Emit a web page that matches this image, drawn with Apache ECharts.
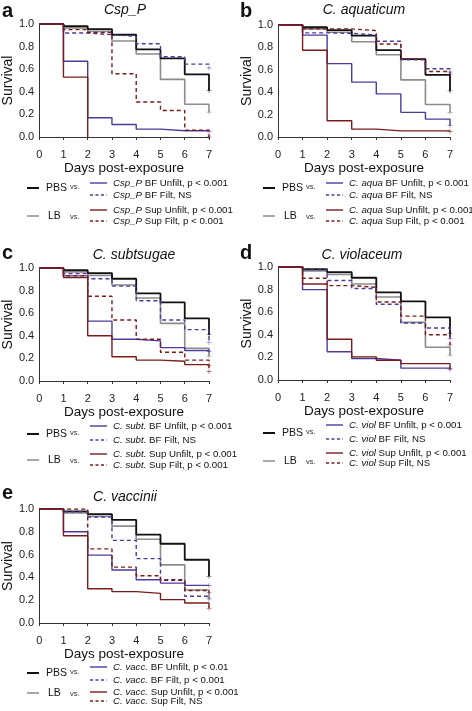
<!DOCTYPE html>
<html><head><meta charset="utf-8">
<script src="https://cdn.jsdelivr.net/npm/echarts@6/dist/echarts.min.js"></script>
<style>html,body{margin:0;padding:0;background:#fff}#c{width:472px;height:711px}</style>
</head><body><div id="c"></div>
<script>
// ---------------- DATA ----------------
const days = [0, 1, 2, 3, 4, 5, 6, 7];
const xTicks = [0, 1, 2, 3, 4, 5, 6, 7];
const yTicks = [0.0, 0.2, 0.4, 0.6, 0.8, 1.0];

// controls (same in every panel)
const pbs = [1.0, 0.98, 0.955, 0.905, 0.775, 0.695, 0.555, 0.41];
const lb  = [1.0, 0.965, 0.935, 0.85, 0.735, 0.51, 0.29, 0.22];

// a: Csp_P
const cspBFUnfilt  = [1.0, 0.67, 0.17, 0.11, 0.07, 0.055, 0.055, 0.05];
const cspBFFilt    = [1.0, 0.92, 0.905, 0.89, 0.825, 0.71, 0.645, 0.61];
const cspSupUnfilt = [1.0, 0.53, 0.0, null, null, null, null, null];
const cspSupFilt   = [1.0, 0.95, 0.925, 0.56, 0.31, 0.235, 0.06, 0.0];
// b: C. aquaticum
const aquaBFUnfilt  = [1.0, 0.91, 0.655, 0.49, 0.385, 0.22, 0.16, 0.10];
const aquaBFFilt    = [1.0, 0.93, 0.925, 0.91, 0.855, 0.69, 0.61, 0.58];
const aquaSupUnfilt = [1.0, 0.775, 0.145, 0.07, 0.055, 0.055, 0.055, 0.05];
const aquaSupFilt   = [1.0, 0.965, 0.965, 0.95, 0.83, 0.70, 0.585, 0.56];
// c: C. subtsugae
const subtBFUnfilt  = [1.0, 0.93, 0.53, 0.37, 0.355, 0.295, 0.27, 0.26];
const subtBFFilt    = [1.0, 0.95, 0.905, 0.84, 0.71, 0.54, 0.455, 0.34];
const subtSupUnfilt = [1.0, 0.915, 0.40, 0.215, 0.185, 0.175, 0.145, 0.14];
const subtSupFilt   = [1.0, 0.93, 0.75, 0.54, 0.37, 0.255, 0.185, 0.085];
// d: C. violaceum
const violBFUnfilt  = [1.0, 0.80, 0.25, 0.19, 0.175, 0.105, 0.105, 0.095];
const violBFFilt    = [1.0, 0.975, 0.88, 0.81, 0.67, 0.505, 0.46, 0.37];
const violSupUnfilt = [1.0, 0.85, 0.36, 0.205, 0.175, 0.145, 0.145, 0.10];
const violSupFilt   = [1.0, 0.90, 0.835, 0.82, 0.69, 0.565, 0.40, 0.31];
// e: C. vaccinii
const vaccBFUnfilt  = [1.0, 0.80, 0.595, 0.465, 0.38, 0.35, 0.33, 0.33];
const vaccBFFilt    = [1.0, 0.975, 0.93, 0.725, 0.565, 0.38, 0.235, 0.21];
const vaccSupUnfilt = [1.0, 0.765, 0.30, 0.275, 0.26, 0.205, 0.175, 0.13];
const vaccSupFilt   = [1.0, 1.0, 0.65, 0.49, 0.415, 0.375, 0.285, 0.27];

const panelLetters = ['a', 'b', 'c', 'd', 'e'];
const panelTitles = ['Csp_P', 'C. aquaticum', 'C. subtsugae', 'C. violaceum', 'C. vaccinii'];
const legendAbbrev = ['Csp_P', 'C. aqua', 'C. subt.', 'C. viol', 'C. vacc.'];
const legendTexts = [
  ['BF Unfilt, p < 0.001', 'BF Filt, NS', 'Sup Unfilt, p < 0.001', 'Sup Filt, p < 0.001'],
  ['BF Unfilt, p < 0.001', 'BF Filt, NS', 'Sup Unfilt, p < 0.001', 'Sup Filt, p < 0.001'],
  ['BF Unfilt, p < 0.001', 'BF Filt, NS', 'Sup Unfilt, p < 0.001', 'Sup Filt, p < 0.001'],
  ['BF Unfilt, p < 0.001', 'BF Filt, NS', 'Sup Unfilt, p < 0.001', 'Sup Filt, NS'],
  ['BF Unfilt, p < 0.01', 'BF Filt, p < 0.001', 'Sup Unfilt, p < 0.001', 'Sup Filt, NS']
];
const controlNames = ['PBS', 'LB'];
const panelSeries = [
  [cspBFUnfilt, cspBFFilt, cspSupUnfilt, cspSupFilt],
  [aquaBFUnfilt, aquaBFFilt, aquaSupUnfilt, aquaSupFilt],
  [subtBFUnfilt, subtBFFilt, subtSupUnfilt, subtSupFilt],
  [violBFUnfilt, violBFFilt, violSupUnfilt, violSupFilt],
  [vaccBFUnfilt, vaccBFFilt, vaccSupUnfilt, vaccSupFilt]
];

// ---------------- LAYOUT / STYLE ----------------
const FONT = '"Liberation Sans", Arial, sans-serif';
const PURPLE = '#4e3a9c', RED = '#7a1c1c', GRAY = '#8c8c8c', BLACK = '#111';
const seriesStyle = [
  {color: PURPLE, dash: 'solid'}, {color: PURPLE, dash: [4, 3]},
  {color: RED, dash: 'solid'}, {color: RED, dash: [4, 3]}
];
const grids = [
  {left: 37, top: 24, width: 172, height: 113},
  {left: 278, top: 25, width: 172, height: 112},
  {left: 37, top: 268, width: 172, height: 113},
  {left: 278, top: 267, width: 172, height: 113},
  {left: 37, top: 509, width: 172, height: 114}
];
const titlePos = [[125, 10], [364, 10], [134, 255], [362, 255], [125, 497]];
const letterPos = [[2, 11], [240, 11], [2, 253], [240, 253], [2, 493]];
const legendX = [0, 236, 0, 236, 0];
const legendRows = [
  [183, 195, 210, 221], [183, 195, 210, 221],
  [426, 440, 454, 465], [425, 439, 453, 463],
  [667, 680, 692, 701]
];
const legendCtrlY = [[188, 216], [188, 216], [434, 460], [433, 461], [673, 693]];

const toPts = arr => days.map((d, i) => [d, arr[i]]).filter(p => p[1] !== null);
const cross = 'path://M4,0h1v9h-1zM0,4h9v1h-9z';

const option = {
  animation: false,
  backgroundColor: '#fff',
  textStyle: {fontFamily: FONT},
  grid: grids.map(g => Object.assign({containLabel: false}, g)),
  xAxis: grids.map((g, i) => ({
    gridIndex: i, type: 'value', min: xTicks[0], max: xTicks[xTicks.length - 1], interval: 1,
    offset: 5,
    name: 'Days post-exposure', nameLocation: 'middle', nameGap: 17,
    nameTextStyle: {fontSize: 13.5, color: BLACK, fontFamily: FONT},
    axisLine: {show: true, lineStyle: {color: '#333', width: 1}},
    axisTick: {show: true, length: 3, lineStyle: {color: '#333'}},
    axisLabel: {fontSize: 11, color: '#222', margin: 7, fontFamily: FONT},
    splitLine: {show: false}
  })),
  yAxis: grids.map((g, i) => ({
    gridIndex: i, type: 'value', min: yTicks[0], max: yTicks[yTicks.length - 1], interval: 0.2,
    name: 'Survival', nameLocation: 'middle', nameGap: 20,
    nameTextStyle: {fontSize: 14, color: BLACK, fontFamily: FONT},
    axisLine: {show: true, lineStyle: {color: '#333', width: 1}},
    axisTick: {show: false},
    axisLabel: {fontSize: 11, color: '#222', margin: 5, fontFamily: FONT,
      formatter: v => v.toFixed(1)},
    splitLine: {show: false}
  })),
  series: [],
  graphic: []
};

panelSeries.forEach((arrs, p) => {
  const lineS = (arr, color, width, dash, z) => ({
    type: 'line', xAxisIndex: p, yAxisIndex: p, step: 'end', symbol: 'none',
    data: toPts(arr), z: z,
    lineStyle: {color: color, width: width, type: dash}
  });
  option.series.push(lineS(lb, GRAY, 1.6, 'solid', 2));
  option.series.push(lineS(pbs, BLACK, 1.8, 'solid', 3));
  arrs.forEach((arr, k) => {
    option.series.push(lineS(arr, seriesStyle[k].color, 1.4, seriesStyle[k].dash, 4));
  });
  // censor marks at last observation
  const marks = [];
  const all = [[pbs, BLACK], [lb, GRAY]].concat(arrs.map((a, k) => [a, seriesStyle[k].color]));
  all.forEach(([arr, c]) => {
    if (arr[7] !== null) marks.push({value: [days[7], arr[7]], itemStyle: {color: c}});
  });
  option.series.push({
    type: 'scatter', xAxisIndex: p, yAxisIndex: p, symbol: cross, symbolSize: 5,
    data: marks, z: 5, silent: true
  });

  // titles / letters
  option.graphic.push({
    type: 'text', x: titlePos[p][0], y: titlePos[p][1],
    style: {text: panelTitles[p], font: 'italic 14px ' + FONT, fill: BLACK,
      align: 'center', verticalAlign: 'middle'}
  });
  option.graphic.push({
    type: 'text', x: letterPos[p][0], y: letterPos[p][1],
    style: {text: panelLetters[p], font: 'bold 20px ' + FONT, fill: BLACK,
      align: 'left', verticalAlign: 'middle'}
  });

  // legend
  const ox = legendX[p];
  const cy = legendCtrlY[p];
  [[BLACK, 2], [GRAY, 1.5]].forEach(([c, w], j) => {
    option.graphic.push({type: 'line', shape: {x1: ox + 27, y1: cy[j], x2: ox + 39, y2: cy[j]},
      style: {stroke: c, lineWidth: w}});
    option.graphic.push({type: 'text', x: ox + (j === 0 ? 46 : 48), y: cy[j],
      style: {text: controlNames[j], font: '10.5px ' + FONT, fill: BLACK, verticalAlign: 'middle'}});
    option.graphic.push({type: 'text', x: ox + 70, y: cy[j] + (j === 0 ? -1 : 1),
      style: {text: 'vs.', font: '7.5px ' + FONT, fill: '#333', verticalAlign: 'middle'}});
  });
  legendTexts[p].forEach((t, k) => {
    const y = legendRows[p][k];
    option.graphic.push({type: 'line', shape: {x1: ox + 90, y1: y, x2: ox + 107, y2: y},
      style: {stroke: seriesStyle[k].color, lineWidth: 1.4,
        lineDash: seriesStyle[k].dash === 'solid' ? null : [3, 2.5]}});
    option.graphic.push({type: 'text', x: ox + 113, y: y,
      style: {text: '{i|' + legendAbbrev[p] + '} ' + t, font: '9.7px ' + FONT, fill: BLACK,
        verticalAlign: 'middle',
        rich: {i: {fontStyle: 'italic', fontSize: 9.7, fontFamily: FONT, fill: BLACK}}}});
  });
});

const chart = echarts.init(document.getElementById('c'), null, {renderer: 'canvas'});
chart.setOption(option);
</script></body></html>
